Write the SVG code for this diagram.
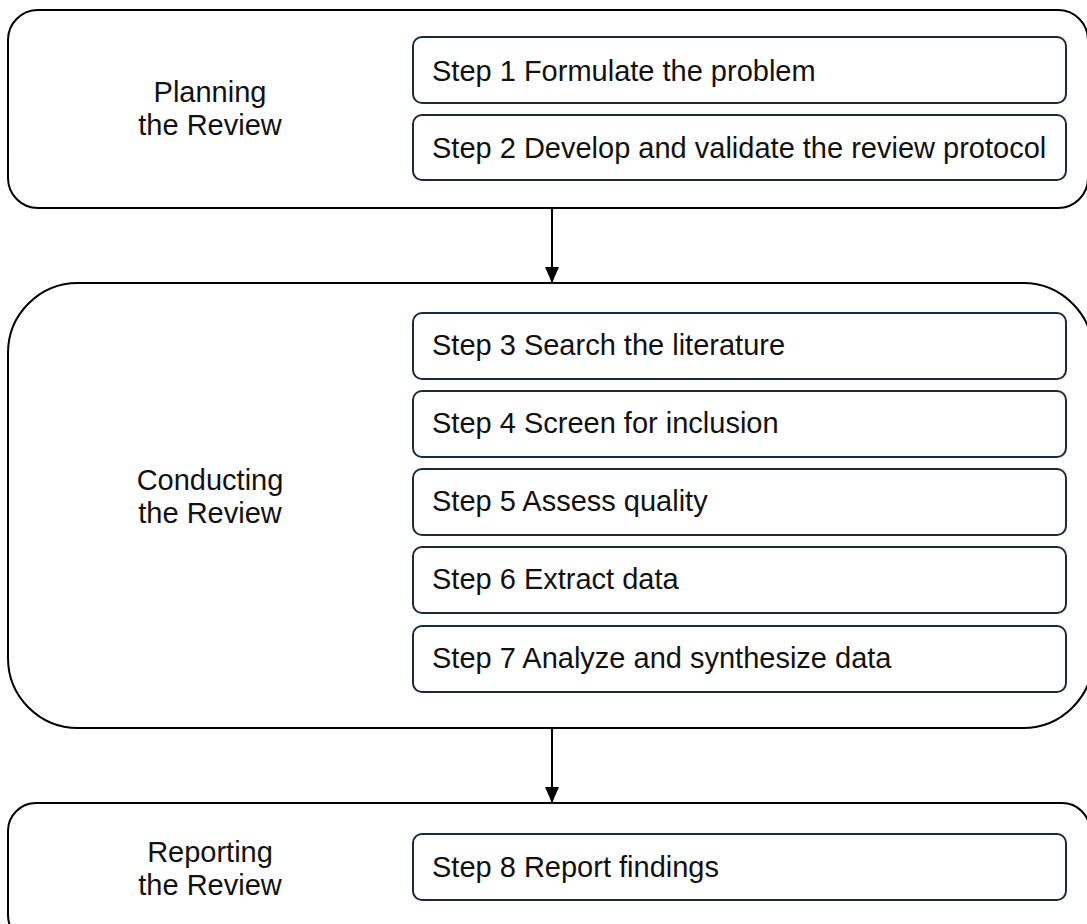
<svg xmlns="http://www.w3.org/2000/svg" width="1087" height="924" viewBox="0 0 1087 924">
  <style>
    .phase { fill: #ffffff; stroke: #000000; stroke-width: 2; }
    .step { fill: #ffffff; stroke: #1b2b3b; stroke-width: 2; }
    .label { font-family: "Liberation Sans", Arial, sans-serif; font-size: 29px; fill: #111111; }
    .center { text-anchor: middle; }
    .edge { stroke: #000000; stroke-width: 2; fill: none; }
  </style>
  <defs>
    <!-- arrowhead drawn along +x so orient="auto" follows the line direction -->
    <marker id="arrow" viewBox="0 0 16 14" refX="16" refY="7" markerWidth="16" markerHeight="14" markerUnits="userSpaceOnUse" orient="auto">
      <path d="M0,0 L16,7 L0,14 Z" fill="#000000"/>
    </marker>
  </defs>
  <rect width="1087" height="924" fill="#ffffff"/>

  <!-- Phase 1: planning -->
  <g id="planning">
    <rect class="phase" x="8" y="10" width="1080" height="198" rx="30" ry="30"/>
    <text class="label center" x="210" y="102">Planning</text>
    <text class="label center" x="210" y="135">the Review</text>
  </g>
  <g id="step1">
    <rect class="step" x="413" y="37" width="653" height="66" rx="9" ry="9"/>
    <text class="label" x="432" y="81">Step 1 Formulate the problem</text>
  </g>
  <g id="step2">
    <rect class="step" x="413" y="115" width="653" height="65" rx="9" ry="9"/>
    <text class="label" x="432" y="158">Step 2 Develop and validate the review protocol</text>
  </g>

  <!-- Phase 2: conducting -->
  <g id="conducting">
    <rect class="phase" x="8" y="283" width="1085" height="445" rx="70" ry="70"/>
    <text class="label center" x="210" y="490">Conducting</text>
    <text class="label center" x="210" y="523">the Review</text>
  </g>
  <g id="step3">
    <rect class="step" x="413" y="313" width="653" height="66" rx="9" ry="9"/>
    <text class="label" x="432" y="355">Step 3 Search the literature</text>
  </g>
  <g id="step4">
    <rect class="step" x="413" y="391" width="653" height="66" rx="9" ry="9"/>
    <text class="label" x="432" y="433">Step 4 Screen for inclusion</text>
  </g>
  <g id="step5">
    <rect class="step" x="413" y="469" width="653" height="66" rx="9" ry="9"/>
    <text class="label" x="432" y="511">Step 5 Assess quality</text>
  </g>
  <g id="step6">
    <rect class="step" x="413" y="547" width="653" height="66" rx="9" ry="9"/>
    <text class="label" x="432" y="589">Step 6 Extract data</text>
  </g>
  <g id="step7">
    <rect class="step" x="413" y="626" width="653" height="66" rx="9" ry="9"/>
    <text class="label" x="432" y="668">Step 7 Analyze and synthesize data</text>
  </g>

  <!-- Phase 3: reporting -->
  <g id="reporting">
    <rect class="phase" x="8" y="803" width="1082" height="140" rx="28" ry="28"/>
    <text class="label center" x="210" y="862">Reporting</text>
    <text class="label center" x="210" y="895">the Review</text>
  </g>
  <g id="step8">
    <rect class="step" x="413" y="834" width="653" height="66" rx="9" ry="9"/>
    <text class="label" x="432" y="877">Step 8 Report findings</text>
  </g>

  <!-- Connectors between phases -->
  <g id="connectors">
    <line class="edge" x1="552" y1="208" x2="552" y2="283" marker-end="url(#arrow)"/>
    <line class="edge" x1="552" y1="728" x2="552" y2="803" marker-end="url(#arrow)"/>
  </g>
</svg>
